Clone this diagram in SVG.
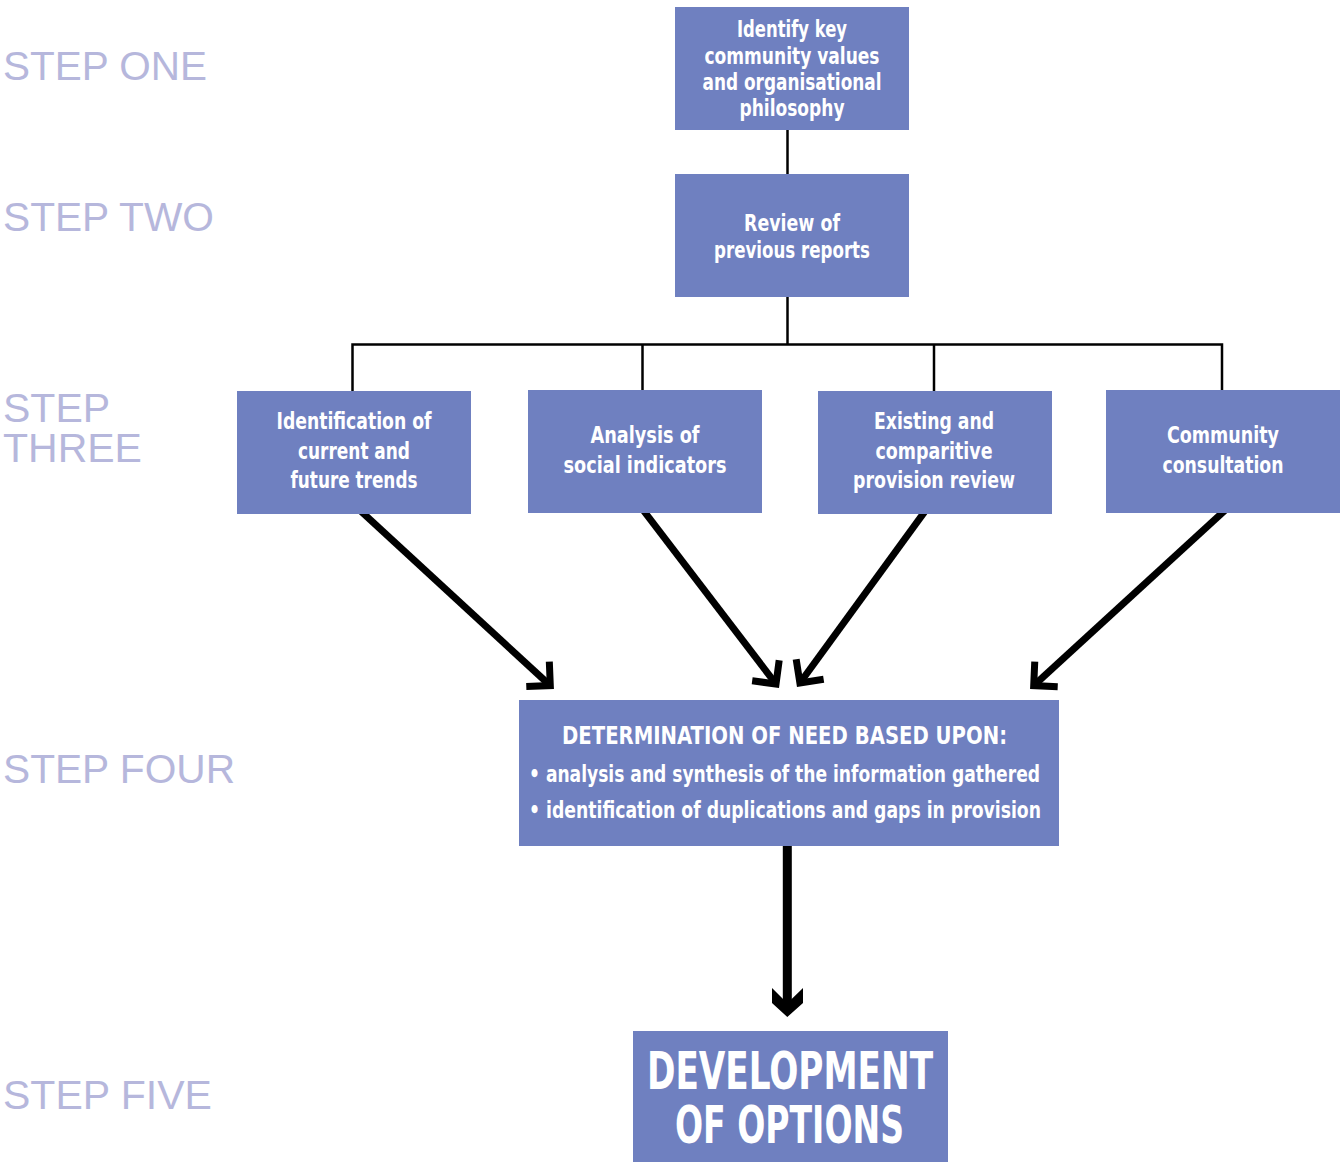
<svg xmlns="http://www.w3.org/2000/svg" width="1340" height="1162" viewBox="0 0 1340 1162">
<style>
.box{fill:#6f80c0}
.nt{font-family:"Liberation Sans Narrow","DejaVu Sans Condensed","Liberation Sans",sans-serif;font-weight:700;fill:#fff;font-size:23px;text-anchor:middle}
.step{font-family:"Liberation Sans",Arial,sans-serif;font-size:41px;fill:#b6b7dc}
.thin{stroke:#000;stroke-width:2.5;fill:none}
.thick{stroke:#000;stroke-width:7;fill:none}
</style>
<defs>
<marker id="ah" markerUnits="userSpaceOnUse" markerWidth="60" markerHeight="60" viewBox="-30 -30 60 60" refX="0" refY="0" orient="auto" overflow="visible">
<path d="M-17,-17 L0,0 L-17,17" fill="none" stroke="#000" stroke-width="7" stroke-linejoin="miter" stroke-miterlimit="10"/>
</marker>
</defs>
<rect width="1340" height="1162" fill="#fff"/>
<g id="step-labels">
<text class="step" x="3" y="80" textLength="204" lengthAdjust="spacingAndGlyphs">STEP ONE</text>
<text class="step" x="3" y="231" textLength="211" lengthAdjust="spacingAndGlyphs">STEP TWO</text>
<text class="step" x="3" y="422">STEP</text>
<text class="step" x="3" y="462">THREE</text>
<text class="step" x="3" y="783" textLength="232" lengthAdjust="spacingAndGlyphs">STEP FOUR</text>
<text class="step" x="3" y="1109">STEP FIVE</text>
</g>
<g id="connectors">
<line class="thin" x1="787.5" y1="125" x2="787.5" y2="178"/>
<line class="thin" x1="787.5" y1="292" x2="787.5" y2="345"/>
<polyline class="thin" points="352.5,395 352.5,344.5 1222,344.5 1222,395"/>
<line class="thin" x1="642.5" y1="344.5" x2="642.5" y2="395"/>
<line class="thin" x1="934" y1="344.5" x2="934" y2="395"/>
<line class="thick" x1="356.6" y1="507.2" x2="550.3" y2="685.6" marker-end="url(#ah)"/>
<line class="thick" x1="640" y1="506" x2="776" y2="684" marker-end="url(#ah)"/>
<line class="thick" x1="928.9" y1="505.9" x2="799.9" y2="683" marker-end="url(#ah)"/>
<line class="thick" x1="1228.4" y1="507.2" x2="1033.7" y2="685.6" marker-end="url(#ah)"/>
<rect x="782.8" y="840" width="9" height="164" fill="#000"/>
<polygon points="772,988 787.3,1003.3 803,988 803,1003 787.3,1017 772,1003" fill="#000"/>
</g>
<g id="node-values">
<rect class="box" x="675" y="7" width="234" height="123"/>
<text class="nt" x="792" y="37" textLength="110" lengthAdjust="spacingAndGlyphs">Identify key</text>
<text class="nt" x="792" y="63.5" textLength="175" lengthAdjust="spacingAndGlyphs">community values</text>
<text class="nt" x="792" y="90" textLength="179" lengthAdjust="spacingAndGlyphs">and organisational</text>
<text class="nt" x="792" y="116" textLength="105" lengthAdjust="spacingAndGlyphs">philosophy</text>
</g>
<g id="node-review">
<rect class="box" x="675" y="174" width="234" height="123"/>
<text class="nt" x="792" y="230.5" textLength="96" lengthAdjust="spacingAndGlyphs">Review of</text>
<text class="nt" x="792" y="258" textLength="156" lengthAdjust="spacingAndGlyphs">previous reports</text>
</g>
<g id="node-trends">
<rect class="box" x="237" y="391" width="234" height="123"/>
<text class="nt" x="354" y="429" textLength="155" lengthAdjust="spacingAndGlyphs">Identification of</text>
<text class="nt" x="354" y="459" textLength="112" lengthAdjust="spacingAndGlyphs">current and</text>
<text class="nt" x="354" y="488" textLength="127" lengthAdjust="spacingAndGlyphs">future trends</text>
</g>
<g id="node-indicators">
<rect class="box" x="528" y="390" width="234" height="123"/>
<text class="nt" x="645" y="443" textLength="109" lengthAdjust="spacingAndGlyphs">Analysis of</text>
<text class="nt" x="645" y="473" textLength="163" lengthAdjust="spacingAndGlyphs">social indicators</text>
</g>
<g id="node-provision">
<rect class="box" x="818" y="391" width="234" height="123"/>
<text class="nt" x="934" y="429" textLength="120" lengthAdjust="spacingAndGlyphs">Existing and</text>
<text class="nt" x="934" y="459" textLength="117" lengthAdjust="spacingAndGlyphs">comparitive</text>
<text class="nt" x="934" y="488" textLength="162" lengthAdjust="spacingAndGlyphs">provision review</text>
</g>
<g id="node-consultation">
<rect class="box" x="1106" y="390" width="234" height="123"/>
<text class="nt" x="1223" y="443" textLength="112" lengthAdjust="spacingAndGlyphs">Community</text>
<text class="nt" x="1223" y="473" textLength="121" lengthAdjust="spacingAndGlyphs">consultation</text>
</g>
<g id="node-need">
<rect class="box" x="519" y="700" width="540" height="146"/>
<text class="nt" x="784.5" y="744" style="font-size:25px" textLength="445" lengthAdjust="spacingAndGlyphs">DETERMINATION OF NEED BASED UPON:</text>
<text class="nt" x="529" y="781.5" style="text-anchor:start" textLength="511" lengthAdjust="spacingAndGlyphs">• analysis and synthesis of the information gathered</text>
<text class="nt" x="529" y="818" style="text-anchor:start" textLength="512" lengthAdjust="spacingAndGlyphs">• identification of duplications and gaps in provision</text>
</g>
<g id="node-options">
<rect class="box" x="633" y="1031" width="315" height="131"/>
<text class="nt" x="790" y="1089" style="font-size:51px" textLength="286" lengthAdjust="spacingAndGlyphs">DEVELOPMENT</text>
<text class="nt" x="789.5" y="1143" style="font-size:51px" textLength="229" lengthAdjust="spacingAndGlyphs">OF OPTIONS</text>
</g>
</svg>
